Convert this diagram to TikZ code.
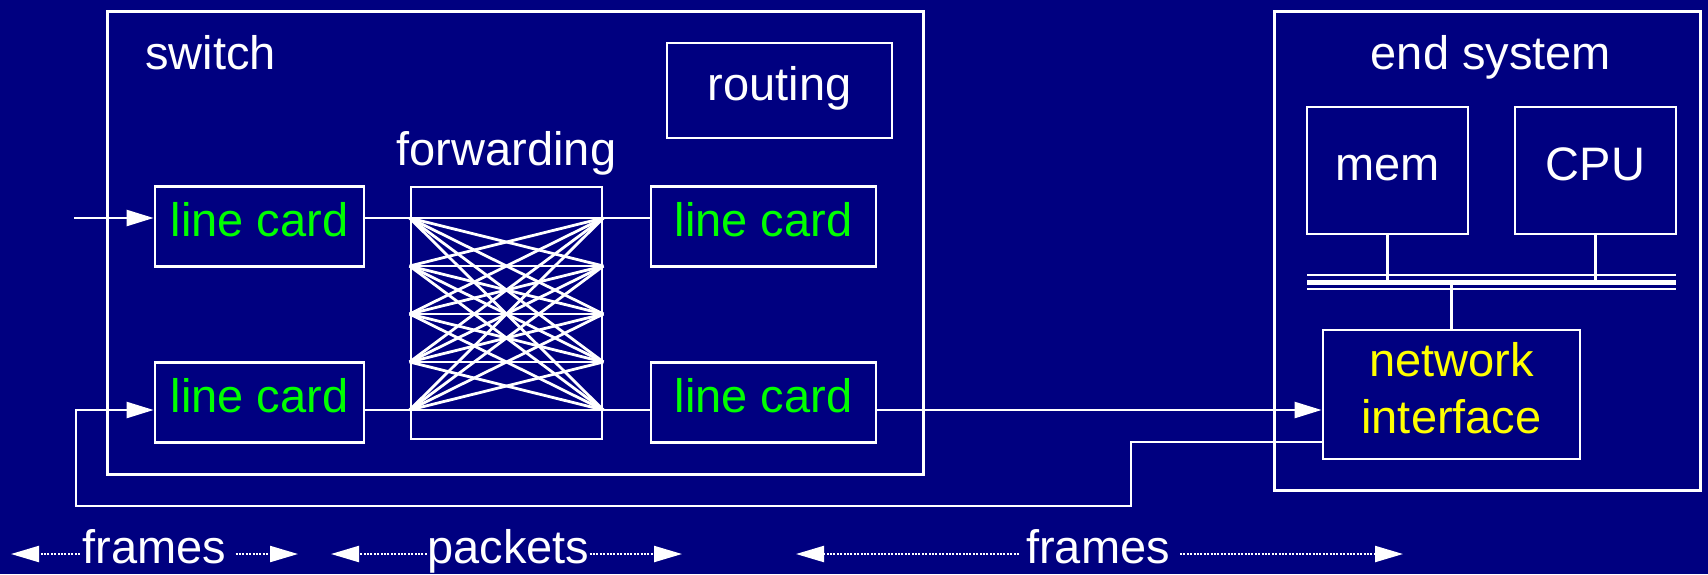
\documentclass[tikz,border=0pt]{standalone}
\usepackage{fontspec}
\setmainfont{Liberation Sans}
\usetikzlibrary{arrows.meta}
\definecolor{navy}{RGB}{0,0,128}
\definecolor{cardgreen}{RGB}{0,255,0}
\definecolor{nicyellow}{RGB}{255,255,0}

\begin{document}
\begin{tikzpicture}[x=1pt,y=-1pt,
  every node/.style={font=\fontsize{47}{57}\selectfont, text=white},
  frame/.style={draw=white, line width=3pt, inner sep=0pt},
  box/.style={draw=white, line width=2.8pt, inner sep=0pt, text height=34pt, text depth=14pt},
  card/.style={box, text=cardgreen, minimum width=209pt, minimum height=80pt},
  wcard/.style={card, minimum width=225pt},
  wire/.style={draw=white, line width=2.4pt},
  tip/.style={-{Triangle[length=27pt,width=16pt]}},
  xbar/.style={draw=white, line width=2.8pt},
  dots/.style={draw=white, line width=2.2pt, dash pattern=on 2pt off 1.4pt,
               -{Triangle[length=28pt,width=16pt]}},
  caption/.style={inner sep=0pt},
]
% background
\fill[navy] (0,0) rectangle (1708,574);
\useasboundingbox (0,0) rectangle (1708,574);

% ---------- switch ----------
\node[frame, minimum width=816pt, minimum height=463pt] (switch) at (515,242.5) {};
\node[caption, anchor=base west] (switchlbl) at (145,69) {switch};
\node[box, minimum width=225pt, minimum height=95pt] (routing) at (779.5,90.5) {routing};
\node[caption, anchor=base] (fwdlbl) at (506.5,165) {forwarding};
\node[box, minimum width=191pt, minimum height=252pt] (fwd) at (506.5,313) {};

\node[card] (lcA) at (259.5,226.5) {line card};
\node[card] (lcB) at (259.5,402.5) {line card};
\node[wcard] (rcA) at (763.5,226.5) {line card};
\node[wcard] (rcB) at (763.5,402.5) {line card};

% crossbar ports on both sides of the switching fabric
\foreach \i/\y in {1/218,2/266,3/314,4/362,5/410}{
  \coordinate (L\i) at (fwd.west |- 0,\y);
  \coordinate (R\i) at (fwd.east |- 0,\y);
}
\foreach \i in {1,...,5}{
  \foreach \j in {1,...,5}{
    \draw[xbar] (L\i) -- (R\j);
  }
}

% ---------- end system ----------
\node[frame, minimum width=426pt, minimum height=479pt] (endsys) at (1487,250.5) {};
\node[caption, anchor=base] (endlbl) at (1491,69) {end system};
\node[box, minimum width=161pt, minimum height=127pt] (mem) at (1387.5,170.5) {mem};
\node[box, minimum width=161pt, minimum height=127pt] (cpu) at (1595.5,170.5) {CPU};
\node[box, minimum width=257pt, minimum height=129pt] (ni) at (1451.5,394.5) {};
\node[caption, align=center, text=nicyellow] (nilbl) at (1451.5,388.5) {network\\interface};

% memory bus
\coordinate (busL) at (1307,282);
\coordinate (busR) at (1676,282);
\draw[white, line width=5pt] (busL) -- (busR);
\draw[white, line width=2pt] ([yshift=7pt]busL) -- ([yshift=7pt]busR);
\draw[white, line width=2pt] ([yshift=-7pt]busL) -- ([yshift=-7pt]busR);
\draw[wire] (mem.south) -- (mem.south |- busL);
\draw[wire] (cpu.south) -- (cpu.south |- busL);
\draw[wire] (ni.north) -- (ni.north |- busL);

% ---------- links ----------
\coordinate (inA) at (74,218);
\draw[wire, tip] (inA) -- (lcA.west |- inA);
\draw[wire] (lcA.east |- L1) -- (L1);
\draw[wire] (lcB.east |- L5) -- (L5);
\draw[wire] (R1) -- (rcA.west |- R1);
\draw[wire] (R5) -- (rcB.west |- R5);
\draw[wire, tip] (rcB.east |- R5) -- (ni.west |- R5);

\coordinate (ret1) at (1131,442);
\coordinate (ret2) at (76,506);
\draw[wire, tip] (ni.west |- ret1) -- (ret1) -- (ret1 |- ret2) -- (ret2)
  -- (ret2 |- L5) -- (lcB.west |- L5);

% ---------- span labels ----------
\node[caption, anchor=base] (frA) at (154.5,563) {frames};
\node[caption, anchor=base] (pk) at (508.5,563) {packets};
\node[caption, anchor=base] (frB) at (1098,563) {frames};
\coordinate (frAl) at (11,554);
\coordinate (frAr) at (298,554);
\coordinate (pkl) at (331,554);
\coordinate (pkr) at (682,554);
\coordinate (frBl) at (796,554);
\coordinate (frBr) at (1403,554);
\draw[dots, shorten <=2.5pt] (frA.west |- frAl) -- (frAl);
\draw[dots, shorten <=9pt] (frA.east |- frAr) -- (frAr);
\draw[dots, shorten <=0.5pt] (pk.west |- pkl) -- (pkl);
\draw[dots, shorten <=0pt] (pk.east |- pkr) -- (pkr);
\draw[dots, shorten <=7pt] (frB.west |- frBl) -- (frBl);
\draw[dots, shorten <=10pt] (frB.east |- frBr) -- (frBr);
\end{tikzpicture}
\end{document}
